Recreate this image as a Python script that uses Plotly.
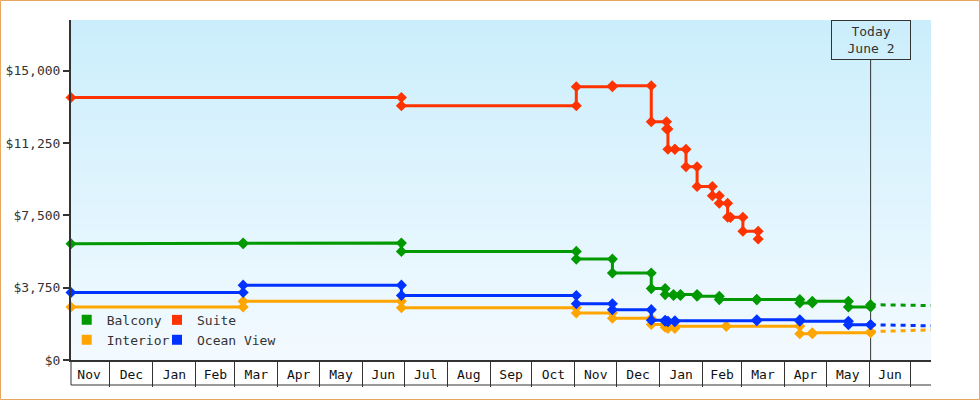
import plotly.graph_objects as go

# ---------------- data ----------------
balcony_dates = ["2020-11-03", "2021-03-07", "2021-06-29", "2021-11-02", "2021-11-28", "2021-12-26",
                 "2022-01-05", "2022-01-11", "2022-01-16", "2022-01-28", "2022-02-13", "2022-03-12",
                 "2022-04-12", "2022-04-21", "2022-05-17", "2022-06-02"]
balcony_values = [6030, 6060, 5630, 5230, 4510, 3700,
                  3390, 3350, 3400, 3300, 3130, 3130,
                  2960, 3040, 2750, 2870]

suite_dates = ["2020-11-03", "2021-06-29", "2021-11-02", "2021-11-28", "2021-12-26",
               "2022-01-06", "2022-01-07", "2022-01-12", "2022-01-20", "2022-01-28",
               "2022-02-08", "2022-02-13", "2022-02-19", "2022-02-21", "2022-03-02", "2022-03-13"]
suite_values = [13610, 13180, 14160, 14220, 12350,
                11970, 10920, 10920, 10020, 8990,
                8510, 8130, 7400, 7400, 6670, 6270]

interior_dates = ["2020-11-03", "2021-03-07", "2021-06-29", "2021-11-02", "2021-11-28", "2021-12-26",
                  "2022-01-05", "2022-01-07", "2022-01-12", "2022-02-18", "2022-04-12", "2022-04-21",
                  "2022-06-02"]
interior_values = [2750, 3040, 2710, 2440, 2160, 1840,
                   1700, 1640, 1750, 1750, 1360, 1410,
                   1460]

ocean_dates = ["2020-11-03", "2021-03-07", "2021-06-29", "2021-11-02", "2021-11-28", "2021-12-26",
               "2022-01-05", "2022-01-07", "2022-01-12", "2022-03-12", "2022-04-12", "2022-05-17",
               "2022-06-02"]
ocean_values = [3500, 3880, 3340, 2920, 2610, 2060,
                2010, 1980, 2030, 2090, 2010, 1830,
                1830]

# projections after today
proj_dates = ["2022-06-02", "2022-07-15 12:00"]
balcony_proj = [2870, 2820]
interior_proj = [1470, 1560]
ocean_proj = [1830, 1770]

today = "2022-06-02"
today_label = "Today<br>June 2"
x_range = ["2020-11-03", "2022-07-15 12:00"]
y_max = 17625
y_step = 3750

colors = {"Balcony": "#009900", "Suite": "#ff3300", "Interior": "#ffa500", "Ocean View": "#0033ff"}
FONT = "DejaVu Sans Mono"
DARK = "#333333"


def step(dates, vals):
    xs, ys = [dates[0]], [vals[0]]
    for i in range(1, len(dates)):
        xs += [dates[i], dates[i]]
        ys += [vals[i - 1], vals[i]]
    return xs, ys


fig = go.Figure()

series = [
    ("Interior", interior_dates, interior_values, interior_proj),
    ("Ocean View", ocean_dates, ocean_values, ocean_proj),
    ("Balcony", balcony_dates, balcony_values, balcony_proj),
    ("Suite", suite_dates, suite_values, None),
]

for name, d, v, proj in series:
    c = colors[name]
    if proj is not None:
        fig.add_trace(go.Scatter(x=proj_dates, y=proj, mode="lines", showlegend=False,
                                 line=dict(color=c, width=3, dash="5px,5px"), hoverinfo="skip"))
    xs, ys = step(d, v)
    fig.add_trace(go.Scatter(x=xs, y=ys, mode="lines+markers", name=name, showlegend=False,
                             line=dict(color=c, width=3), cliponaxis=False,
                             marker=dict(symbol="diamond", size=8.5, color=c)))

# legend entries (square swatches)
for name, lg in [("Balcony", "legend"), ("Interior", "legend"), ("Suite", "legend2"), ("Ocean View", "legend2")]:
    fig.add_trace(go.Scatter(x=[None], y=[None], mode="markers", name=name, legend=lg,
                             marker=dict(symbol="square", size=10, color=colors[name])))

# background gradient bands
shapes = []
n = 68
top = (203, 238, 252)
bot = (243, 250, 255)
for i in range(n):
    t = i / (n - 1)
    col = tuple(round(bot[k] + (top[k] - bot[k]) * t) for k in range(3))
    shapes.append(dict(type="rect", xref="paper", yref="paper", x0=0, x1=1,
                       y0=i / n, y1=(i + 1) / n, line=dict(width=0),
                       fillcolor="rgb(%d,%d,%d)" % col, layer="below"))

# today line
shapes.append(dict(type="line", xref="x", yref="paper", x0=today, x1=today, y0=0, y1=(360 - 60) / 340,
                   line=dict(color=DARK, width=1), layer="below"))
# month-box bottom line and left edge
shapes.append(dict(type="line", xref="paper", yref="paper", x0=0, x1=1, y0=-25 / 340, y1=-25 / 340,
                   line=dict(color=DARK, width=1)))
shapes.append(dict(type="line", xref="paper", yref="paper", x0=0, x1=0, y0=-25 / 340, y1=0,
                   line=dict(color=DARK, width=1)))
# outer border
shapes.append(dict(type="rect", xref="paper", yref="paper",
                   x0=(0.5 - 71) / 860, x1=(979.5 - 71) / 860,
                   y0=(360 - 399.5) / 340, y1=(360 - 0.5) / 340,
                   line=dict(color="#e8a860", width=1), fillcolor="rgba(0,0,0,0)"))

fig.update_layout(
    width=980, height=400,
    margin=dict(l=71, r=49, t=20, b=40, autoexpand=False),
    paper_bgcolor="white", plot_bgcolor="rgb(243,250,255)",
    font=dict(family=FONT, size=13, color=DARK),
    shapes=shapes,
    hovermode=False,
    xaxis=dict(type="date", range=x_range, showgrid=False, zeroline=False,
               showline=True, linecolor=DARK, linewidth=2,
               ticks="outside", ticklen=25, tickwidth=1, tickcolor=DARK,
               dtick="M1", tick0="2020-11-01", tickformat="%b", ticklabelmode="period",
               ticklabelstandoff=-24, tickfont=dict(family=FONT, size=13, color="#111111"),
               automargin=False),
    yaxis=dict(range=[0, y_max], tickmode="linear", tick0=0, dtick=y_step,
               tickprefix="$", tickformat=",d", showgrid=False, zeroline=False,
               showline=True, linecolor=DARK, linewidth=2,
               ticks="outside", ticklen=6, tickwidth=2, tickcolor=DARK,
               tickfont=dict(family=FONT, size=13, color=DARK), automargin=False),
    legend=dict(x=-0.005, xanchor="left", y=0.162, yanchor="top", bgcolor="rgba(0,0,0,0)",
                font=dict(family=FONT, size=13, color=DARK), itemwidth=30, tracegroupgap=0),
    legend2=dict(x=0.1, xanchor="left", y=0.162, yanchor="top", bgcolor="rgba(0,0,0,0)",
                 font=dict(family=FONT, size=13, color=DARK), itemwidth=30, tracegroupgap=0),
    annotations=[dict(x=today, xref="x", y=1, yref="paper", yanchor="top", xanchor="center",
                      text=today_label, showarrow=False, align="center",
                      font=dict(family=FONT, size=13, color=DARK),
                      bordercolor=DARK, borderwidth=1, borderpad=1, width=76, height=36)],
    showlegend=True,
)

fig.write_html("out.html", config={"displayModeBar": False},
               post_script="document.body.style.margin='0';")
